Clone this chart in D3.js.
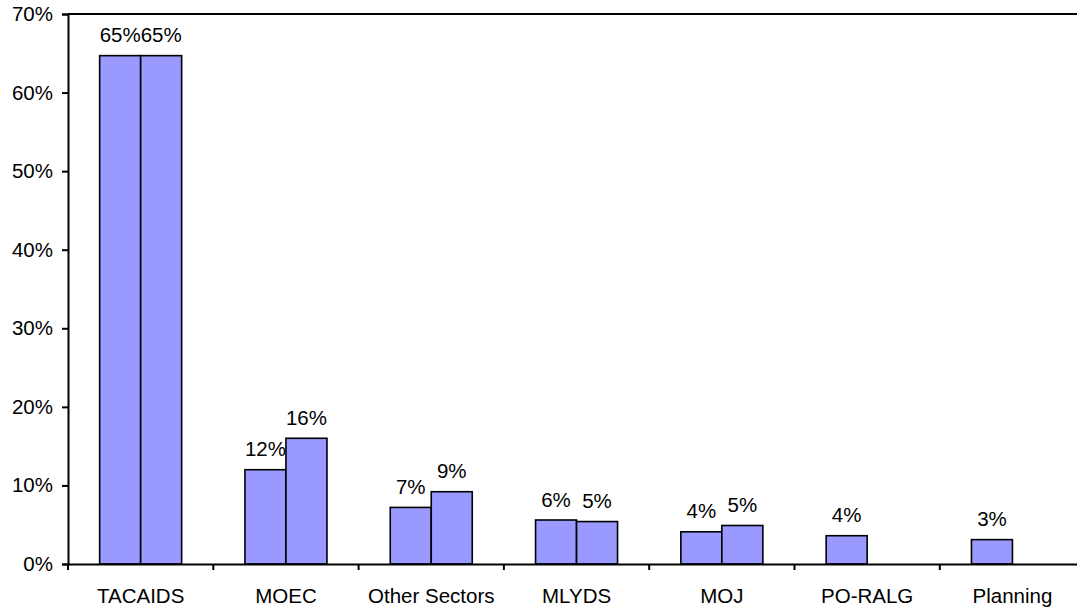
<!DOCTYPE html>
<html>
<head>
<meta charset="utf-8">
<script src="https://cdn.jsdelivr.net/npm/d3@7"></script>
<style>
  html, body { margin: 0; padding: 0; background: #fff; }
  svg { display: block; font-family: "Liberation Sans", Arial, sans-serif; }
</style>
</head>
<body>
<svg id="chart" width="1077" height="609"></svg>
<script>
const categories = ["TACAIDS", "MOEC", "Other Sectors", "MLYDS", "MOJ", "PO-RALG", "Planning"];
const series1 = [64.7, 12.0, 7.2, 5.6, 4.1, 3.6, 3.1];
const series2 = [64.7, 16.0, 9.2, 5.4, 4.9, null, null];
const yTicks = [0, 10, 20, 30, 40, 50, 60, 70];

(function () {
const svg = d3.select("#chart");
const mLeft = 68, mTop = 14, mBottom = 564, catW = 145.3;
const mRight = mLeft + catW * categories.length;
const fs = 20.5;

const x = d3.scaleBand().domain(categories).range([mLeft, mRight]).paddingInner(0).paddingOuter(0);
const x1 = d3.scaleBand().domain([0, 1]).range([0, x.bandwidth()]).paddingInner(0).paddingOuter(0.772);
const y = d3.scaleLinear().domain([0, 70]).range([mBottom, mTop]);

// top border
svg.append("line").attr("x1", mLeft).attr("x2", mRight).attr("y1", mTop).attr("y2", mTop)
  .attr("stroke", "#000").attr("stroke-width", 2);

const seriesList = [series1, series2];
const bars = [];
seriesList.forEach((s, si) => {
  s.forEach((v, i) => { if (v != null) bars.push({ cat: categories[i], si, v }); });
});

svg.append("g").selectAll("rect").data(bars).join("rect")
  .attr("x", d => x(d.cat) + x1(d.si))
  .attr("y", d => y(d.v))
  .attr("width", x1.bandwidth())
  .attr("height", d => y(0) - y(d.v))
  .attr("fill", "#9999FF")
  .attr("stroke", "#000")
  .attr("stroke-width", 1.6);

svg.append("g").selectAll("text").data(bars).join("text")
  .attr("x", d => x(d.cat) + x1(d.si) + x1.bandwidth() / 2)
  .attr("y", d => y(d.v) - 13.5)
  .attr("text-anchor", "middle")
  .attr("font-size", fs)
  .attr("fill", "#000")
  .text(d => Math.round(d.v) + "%");

// y axis
const yAxis = d3.axisLeft(y).tickValues(yTicks).tickFormat(d => d + "%").tickSize(6).tickPadding(9);
const gy = svg.append("g").attr("transform", `translate(${mLeft},0)`).call(yAxis);
gy.select(".domain").attr("stroke", "#000").attr("stroke-width", 2);
gy.selectAll(".tick line").attr("stroke", "#000").attr("stroke-width", 2);
gy.selectAll(".tick text").attr("font-size", fs).attr("fill", "#000")
  .attr("font-family", '"Liberation Sans", Arial, sans-serif');

// x axis
const xAxis = d3.axisBottom(x).tickSize(0).tickPadding(24);
const gx = svg.append("g").attr("transform", `translate(0,${mBottom})`).call(xAxis);
gx.select(".domain").attr("stroke", "#000").attr("stroke-width", 2);
gx.selectAll(".tick text").attr("font-size", fs).attr("fill", "#000")
  .attr("font-family", '"Liberation Sans", Arial, sans-serif');
// category boundary ticks
const bounds = categories.map(c => x(c)).concat([mRight]);
gx.selectAll(".bound").data(bounds).join("line").attr("class", "bound")
  .attr("x1", d => d).attr("x2", d => d).attr("y1", 0).attr("y2", 6)
  .attr("stroke", "#000").attr("stroke-width", 2);
})();
</script>
</body>
</html>
